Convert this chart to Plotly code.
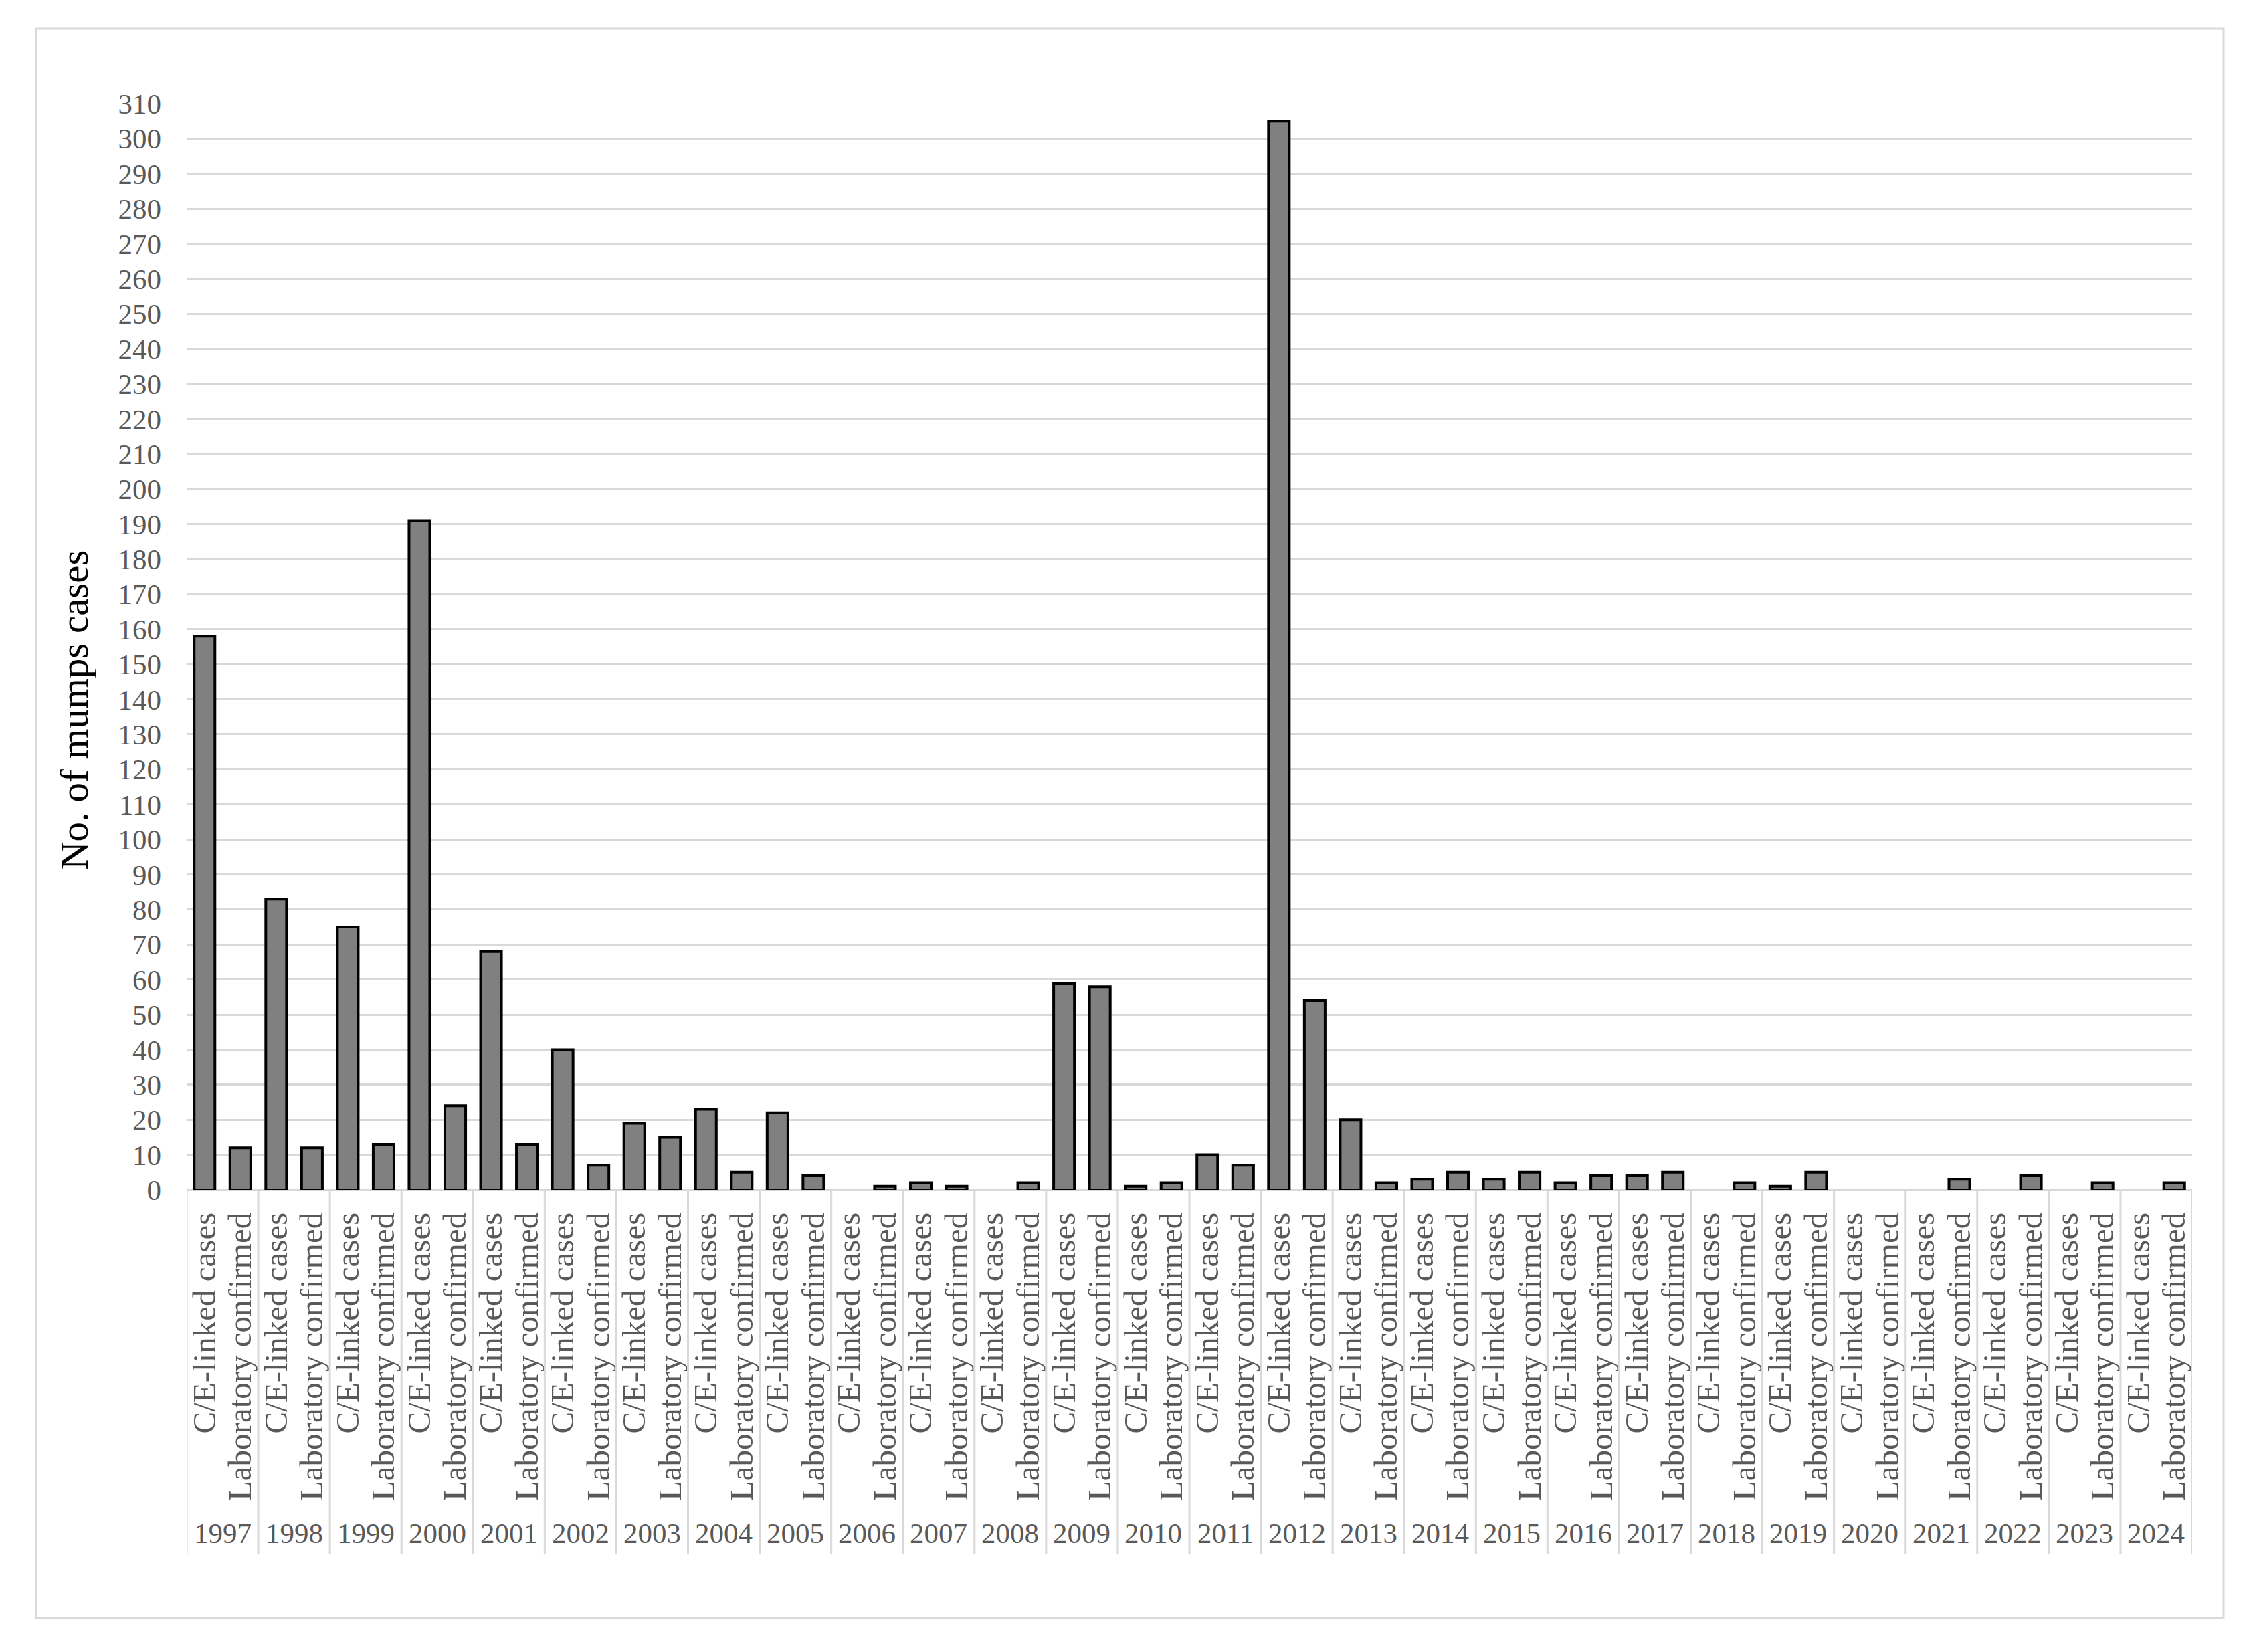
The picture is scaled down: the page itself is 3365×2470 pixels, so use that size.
"""
Mumps cases by year: C/E-linked vs laboratory confirmed
"""
import plotly.graph_objects as go

# --------------------------------------------------------------------
#                               Data
# --------------------------------------------------------------------
years = [1997, 1998, 1999, 2000, 2001, 2002, 2003, 2004, 2005, 2006,
         2007, 2008, 2009, 2010, 2011, 2012, 2013, 2014, 2015, 2016,
         2017, 2018, 2019, 2020, 2021, 2022, 2023, 2024]

ce_linked = [158, 83, 75, 191, 68, 40, 19, 23, 22, 0,
             2, 0, 59, 1, 10, 305, 20, 3, 3, 2,
             4, 0, 1, 0, 0, 0, 0, 0]

lab_confirmed = [12, 12, 13, 24, 13, 7, 15, 5, 4, 1,
                 1, 2, 58, 2, 7, 54, 2, 5, 5, 4,
                 5, 2, 5, 0, 3, 4, 2, 2]

categories = ['C/E-linked cases', 'Laboratory confirmed']

# --------------------------------------------------------------------
#                               Layout helpers (pixels)
# --------------------------------------------------------------------
W, H = 3365, 2470
OFF = 8  # page body margin
plot_l, plot_r, plot_t, plot_b = 279 - OFF, 3277 - OFF, 155 - OFF, 1779 - OFF
pw, ph = plot_r - plot_l, plot_b - plot_t


def px_x(x):
    return (x - OFF - plot_l) / pw


def px_y(y):
    return (plot_b - (y - OFF)) / ph


FONT = 'Liberation Serif'
GRAY = '#595959'
LIGHT = '#d9d9d9'

# positions: each year holds two categories
x_ce = [2 * i for i in range(len(years))]
x_lab = [2 * i + 1 for i in range(len(years))]
tickvals = [v for i in range(len(years)) for v in (2 * i, 2 * i + 1)]
ticktext = [c for _ in years for c in categories]

# -------------------------------------------
# Plot
# -------------------------------------------
fig = go.Figure()
for xs, ys in [(x_ce, ce_linked), (x_lab, lab_confirmed)]:
    # no outline on empty bars
    lw = [4 if v > 0 else 0 for v in ys]
    fig.add_trace(go.Bar(x=xs, y=ys, width=0.58,
                         marker=dict(color='#808080',
                                     line=dict(color='black', width=lw)),
                         showlegend=False))

# year dividers + labels
shapes = []
for i in range(len(years) + 1):
    shapes.append(dict(type='line', xref='x', yref='paper',
                       x0=2 * i - 0.5, x1=2 * i - 0.5,
                       y0=0, y1=px_y(2324),
                       line=dict(color=LIGHT, width=3)))
# outer frame
shapes.append(dict(type='rect', xref='paper', yref='paper',
                   x0=px_x(54), x1=px_x(3324), y0=px_y(2419), y1=px_y(43),
                   line=dict(color=LIGHT, width=3), fillcolor='rgba(0,0,0,0)'))

annotations = [dict(x=2 * i + 0.5, y=px_y(2318), xref='x', yref='paper',
                    text=str(yr), showarrow=False,
                    font=dict(family=FONT, size=43, color=GRAY))
               for i, yr in enumerate(years)]
annotations.append(dict(x=px_x(76), y=px_y(1062), xref='paper', yref='paper',
                        text='No. of mumps cases', textangle=-90,
                        showarrow=False,
                        font=dict(family=FONT, size=59, color='black')))

fig.update_layout(
    width=W, height=H,
    margin=dict(l=plot_l, r=W - plot_r, t=plot_t, b=H - plot_b),
    paper_bgcolor='white', plot_bgcolor='white',
    shapes=shapes, annotations=annotations,
    xaxis=dict(range=[-0.5, 2 * len(years) - 0.5],
               tickmode='array', tickvals=tickvals, ticktext=ticktext,
               tickangle=-90, showgrid=False, zeroline=False,
               showline=False, ticks='', ticklabelstandoff=23,
               tickfont=dict(family=FONT, size=49, color=GRAY)),
    yaxis=dict(range=[0, 310], dtick=10, tick0=0,
               showgrid=True, gridcolor=LIGHT, gridwidth=3,
               zeroline=True, zerolinecolor=LIGHT, zerolinewidth=3,
               showline=False, ticks='', ticklabelstandoff=37,
               tickfont=dict(family=FONT, size=43, color=GRAY)),
)

fig.write_html('out.html')
